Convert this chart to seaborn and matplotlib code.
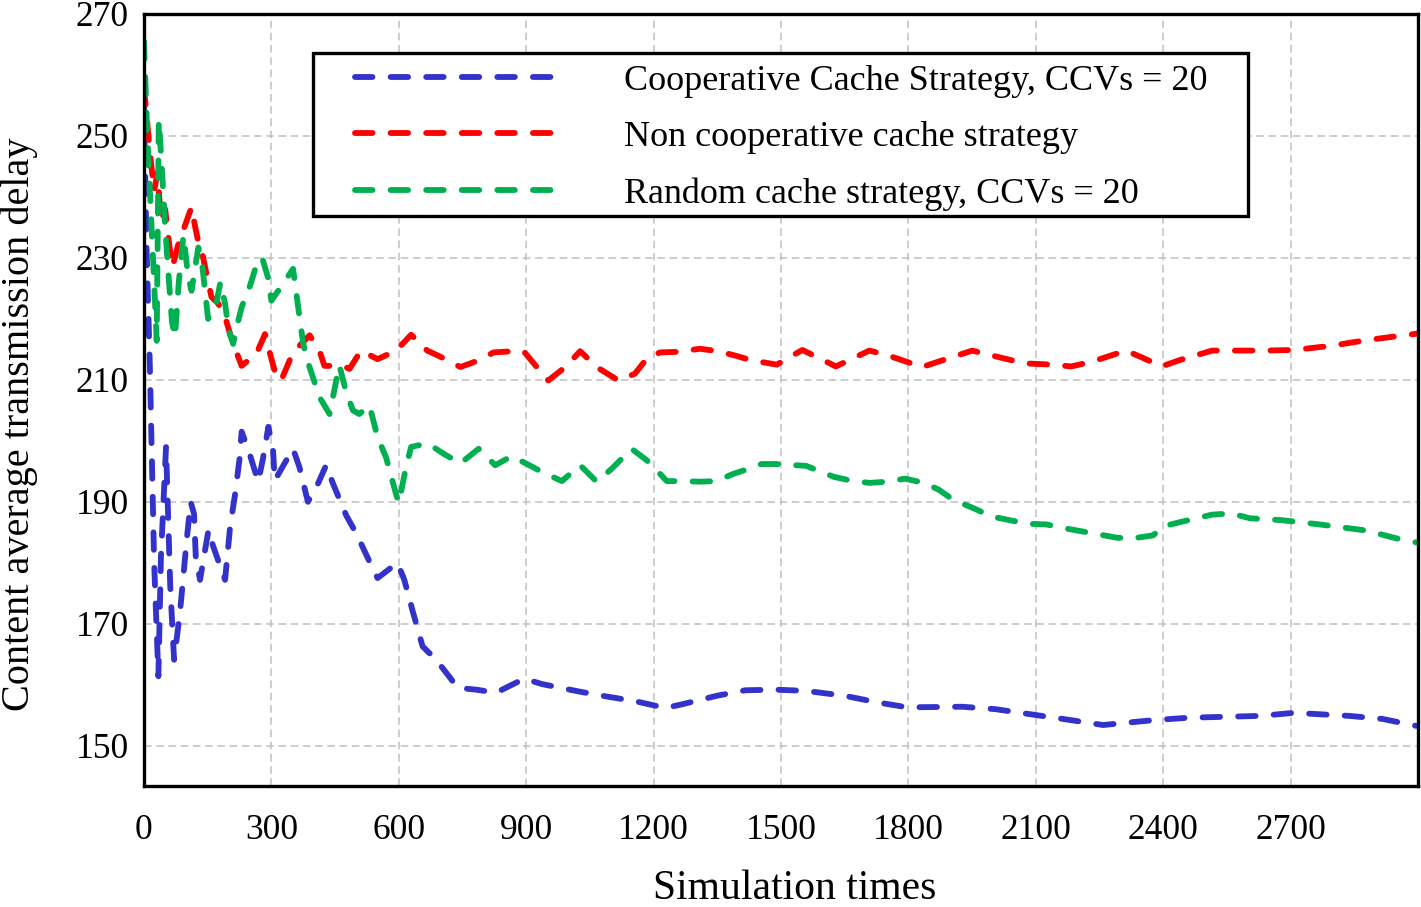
import numpy as np
import pandas as pd
import matplotlib
matplotlib.use("Agg")
import matplotlib.pyplot as plt
from matplotlib.patches import Rectangle
import seaborn as sns

# ---- data ----
coop_x = [0, 6, 14, 24, 34, 40, 52, 62, 71, 85, 101, 110, 118, 122, 132, 152, 163,
          191, 203, 214, 225, 230, 246, 269, 280, 293, 304, 308, 331, 351, 366, 386,
          406, 429, 445, 476, 500, 531, 550, 597, 613, 633, 656, 688, 739, 782, 829,
          895, 938, 1024, 1079, 1157, 1228, 1267, 1349, 1416, 1486, 1559, 1649, 1728,
          1797, 1926, 2005, 2084, 2173, 2258, 2376, 2461, 2629, 2708, 2837, 2916, 3000]
coop_y = [255, 232, 212, 180, 161.4, 181, 199, 176, 164.1, 172, 184, 190, 188, 181,
          177.2, 185.4, 182.7, 177.2, 186, 191, 197, 201.5, 198.5, 193.3, 197, 202.3,
          198.4, 193.5, 196.3, 198.7, 195.7, 190, 192.4, 196, 193, 187.8, 184.8, 180.2,
          177.5, 180, 177.2, 172, 166.3, 164.1, 159.5, 159.2, 158.7, 161, 160.1, 158.9,
          158.2, 157.3, 156.2, 156.8, 158.2, 159.1, 159.2, 159, 158.2, 157.1, 156.3,
          156.4, 156, 155.2, 154.3, 153.4, 154.2, 154.6, 154.9, 155.4, 154.9, 154.4,
          153.2]

noncoop_x = [0, 8, 16, 24, 32, 40, 50, 58, 67, 80, 95, 112, 120, 128, 138, 148, 159,
             175, 191, 203, 218, 230, 265, 285, 296, 312, 323, 351, 390, 413, 425, 468,
             484, 511, 550, 594, 629, 667, 710, 745, 788, 823, 870, 894, 925, 952, 992,
             1027, 1066, 1117, 1156, 1184, 1215, 1258, 1309, 1352, 1391, 1431, 1490,
             1550, 1589, 1629, 1708, 1748, 1832, 1871, 1950, 1990, 2074, 2139, 2183,
             2233, 2312, 2352, 2396, 2441, 2515, 2639, 2708, 2797, 2877, 3000]
noncoop_y = [258, 252, 246, 241, 244, 236, 238, 233, 228.5, 232, 235, 238.3, 235.3,
             232.6, 230.5, 227.1, 223.6, 222.5, 220.3, 217.5, 214.5, 212.3, 214.3,
             217.5, 214.5, 210.4, 209.9, 214.5, 217.3, 214.8, 212.3, 212.3, 211.8,
             214.8, 213.4, 214.8, 217.4, 214.8, 213.4, 212.1, 213.2, 214.5, 214.7,
             214.7, 212.1, 209.9, 212.1, 214.7, 212.1, 209.9, 211, 213.5, 214.5, 214.6,
             215.1, 214.7, 214, 213.2, 212.5, 214.9, 213.6, 212.2, 214.8, 214.1, 212.1,
             213, 214.8, 214.1, 212.7, 212.5, 212.2, 213, 214.8, 213.6, 212.2, 213.3,
             214.8, 214.8, 214.9, 215.6, 216.5, 217.6]

random_x = [0, 8, 16, 24, 30, 35, 42, 50, 58, 66, 73, 82, 93, 104, 112, 128, 136, 144,
            151, 171, 180, 191, 200, 210, 218, 230, 250, 262, 278, 292, 300, 327, 351,
            362, 374, 382, 398, 413, 437, 460, 476, 492, 507, 531, 550, 570, 593, 600,
            617, 629, 668, 705, 745, 788, 827, 866, 902, 937, 984, 1027, 1066, 1101,
            1148, 1184, 1211, 1231, 1270, 1309, 1348, 1388, 1423, 1454, 1489, 1559,
            1624, 1663, 1708, 1748, 1792, 1837, 1871, 1906, 1955, 1995, 2080, 2124,
            2173, 2213, 2292, 2337, 2376, 2401, 2441, 2515, 2560, 2604, 2678, 2767,
            2877, 2966, 3000]
random_y = [265.5, 250, 238, 226, 216.4, 252.6, 245, 235, 227, 219.5, 217, 226, 233.7,
            227, 224.6, 231.7, 229.6, 224.5, 220, 222.7, 226, 222.5, 218, 215.9, 218.6,
            221.9, 225.5, 228.2, 230.1, 226.8, 223, 225.7, 228.2, 222.5, 216.4, 213.7,
            210.4, 207.2, 204.4, 212.4, 208, 205, 204.4, 205.8, 200.6, 197.3, 191.4,
            189.8, 195.7, 199, 199.6, 197.9, 196.3, 198.7, 196, 197.5, 196.2, 194.9,
            193.4, 196, 193.3, 195.4, 198.7, 196.8, 194.9, 193.4, 193.4, 193.3, 193.4,
            194.6, 195.4, 196.2, 196.2, 195.9, 194.1, 193.5, 193.1, 193.3, 193.8, 193.1,
            192, 190.3, 188.9, 187.6, 186.4, 186.3, 185.6, 185.1, 184.1, 184.1, 184.5,
            186, 186.7, 187.9, 188.1, 187.3, 187, 186.3, 185.3, 183.7, 183.3]

labels = ["Cooperative Cache Strategy, CCVs = 20",
          "Non cooperative cache strategy",
          "Random cache strategy, CCVs = 20"]
colors = ["#3333CC", "#FF0000", "#00B050"]
x_ticks = [0, 300, 600, 900, 1200, 1500, 1800, 2100, 2400, 2700]
y_ticks = [150, 170, 190, 210, 230, 250, 270]

sns.set_style("white")
plt.rcParams["font.family"] = ["Liberation Serif", "DejaVu Serif"]
plt.rcParams["text.color"] = "black"
plt.rcParams["xtick.color"] = "black"
plt.rcParams["ytick.color"] = "black"
plt.rcParams["axes.labelcolor"] = "black"

fig = plt.figure(figsize=(14.21, 9.07), dpi=100)
ax = fig.add_axes([0.1013, 0.1334, 0.8967, 0.8512])

series = [(coop_x, coop_y), (noncoop_x, noncoop_y), (random_x, random_y)]
for (xs, ys), lab, col in zip(series, labels, colors):
    sns.lineplot(x=xs, y=ys, ax=ax, color=col, label=lab, lw=4.2,
                 linestyle=(0, (3.0, 3.1)), dash_capstyle="round",
                 solid_joinstyle="round", sort=False)

ax.set_xlim(0, 3000)
ax.set_ylim(143.4, 270)
ax.set_xticks(x_ticks)
ax.set_yticks(y_ticks)
ax.tick_params(axis="both", labelsize=25.5, length=0)
ax.tick_params(axis="x", pad=20)
ax.tick_params(axis="y", pad=11)
ax.grid(True, color="#c0c0c0", linestyle=(0, (5, 3)), lw=1.1)
for sp in ax.spines.values():
    sp.set_color("black")
    sp.set_linewidth(2.4)

ax.set_xlabel("Simulation times", fontsize=30)
ax.set_ylabel("Content average transmission delay", fontsize=29)
ax.xaxis.set_label_coords(0.511, -0.108)
ax.yaxis.set_label_coords(-0.083, 0.469)

# legend entries without frame, box drawn separately
leg = ax.legend(loc="upper left", bbox_to_anchor=(0.1656, 0.9346), fontsize=26,
                handlelength=5.5, handletextpad=1.95, labelspacing=0.64,
                borderpad=0, borderaxespad=0, frameon=False)
ax.add_patch(Rectangle((0.1327, 0.7383), 0.7339, 0.2112, transform=ax.transAxes,
                       facecolor="white", edgecolor="black", lw=2.4, zorder=4))
leg.set_zorder(5)

fig.savefig("out.png", dpi=100)
